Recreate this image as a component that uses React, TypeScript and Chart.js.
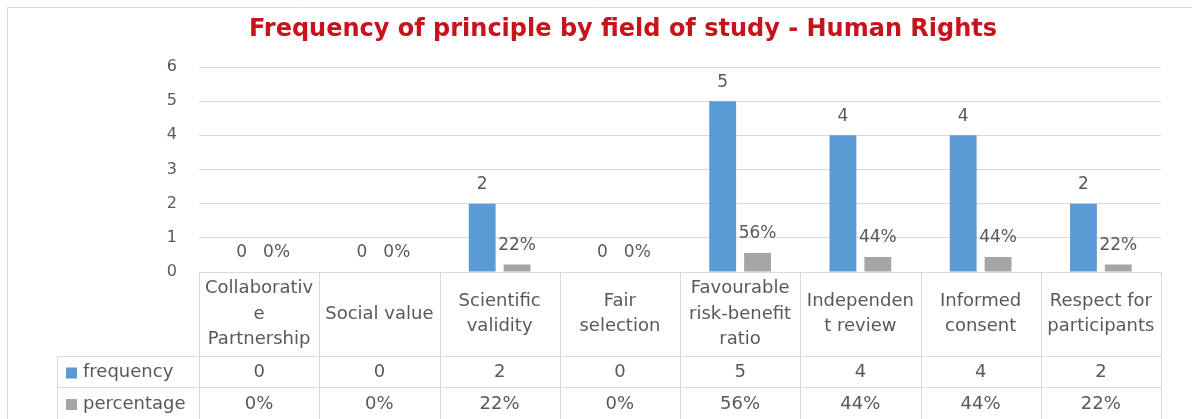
import React, { useEffect, useRef } from "react";
import { Chart, registerables } from "chart.js";

Chart.register(...registerables);

const chartTitle = "Frequency of principle by field of study - Human Rights";
const categories: string[][] = [
  ["Collaborativ", "e", "Partnership"],
  ["Social value"],
  ["Scientific", "validity"],
  ["Fair", "selection"],
  ["Favourable", "risk-benefit", "ratio"],
  ["Independen", "t review"],
  ["Informed", "consent"],
  ["Respect for", "participants"],
];
const seriesNames = ["frequency", "percentage"];
const frequency = [0, 0, 2, 0, 5, 4, 4, 2];
const percentage = [0, 0, 0.22, 0, 0.56, 0.44, 0.44, 0.22];
const yTickMin = 0;
const yTickMax = 6;
const yTickStep = 1;

const BLUE = "#5B9BD5";
const GRAY = "#A5A5A5";
const TEXT = "#595959";
const LINE = "#D9D9D9";
const TITLE_RED = "#C8121C";
const FONT = "'DejaVu Sans', sans-serif";

const W = 1192;
const H = 419;

const fmt = (di: number, v: number) =>
  di === 0 ? String(v) : Math.round(v * 100) + "%";

const framePlugin = {
  id: "frame",
  beforeDraw(chart: any) {
    const ctx = chart.ctx;
    ctx.save();
    ctx.fillStyle = "#ffffff";
    ctx.fillRect(0, 0, W, H);
    ctx.strokeStyle = LINE;
    ctx.lineWidth = 1;
    ctx.beginPath();
    ctx.moveTo(7.5, H);
    ctx.lineTo(7.5, 7.5);
    ctx.lineTo(W, 7.5);
    ctx.stroke();
    // title
    ctx.fillStyle = TITLE_RED;
    ctx.font = `bold 24px 'DejaVu Sans', sans-serif`;
    ctx.textAlign = "center";
    ctx.textBaseline = "middle";
    ctx.fillText(chartTitle, 623, 30);
    ctx.restore();
  },
};

const labelsPlugin = {
  id: "valueLabels",
  afterDatasetsDraw(chart: any) {
    const ctx = chart.ctx;
    ctx.save();
    ctx.fillStyle = TEXT;
    ctx.font = `17px ${FONT}`;
    ctx.textAlign = "center";
    ctx.textBaseline = "middle";
    chart.data.datasets.forEach((ds: any, di: number) => {
      const meta = chart.getDatasetMeta(di);
      meta.data.forEach((el: any, i: number) => {
        ctx.fillText(fmt(di, ds.data[i]), el.x, el.y - 19);
      });
    });
    ctx.restore();
  },
};

const tablePlugin = {
  id: "dataTable",
  afterDraw(chart: any) {
    const ctx = chart.ctx;
    const area = chart.chartArea;
    const xs = chart.scales.x;
    const n = categories.length;
    const colW = (area.right - area.left) / n;
    const catTop = area.bottom;
    const catBottom = catTop + 84;
    const freqBottom = catBottom + 31;
    const labelLeft = 57;
    ctx.save();
    ctx.strokeStyle = LINE;
    ctx.lineWidth = 1;
    ctx.beginPath();
    for (let k = 0; k <= n; k++) {
      const x = Math.round(area.left + k * colW) + 0.5;
      ctx.moveTo(x, catTop);
      ctx.lineTo(x, H);
    }
    ctx.moveTo(labelLeft + 0.5, catBottom);
    ctx.lineTo(labelLeft + 0.5, H);
    ctx.moveTo(labelLeft, catBottom + 0.5);
    ctx.lineTo(area.right, catBottom + 0.5);
    ctx.moveTo(labelLeft, freqBottom + 0.5);
    ctx.lineTo(area.right, freqBottom + 0.5);
    ctx.stroke();

    ctx.fillStyle = TEXT;
    ctx.font = `18px ${FONT}`;
    ctx.textAlign = "center";
    ctx.textBaseline = "middle";
    const lh = 25.5;
    const catMid = (catTop + catBottom) / 2;
    categories.forEach((lines, i) => {
      const cx = xs.getPixelForValue(i);
      const start = catMid - ((lines.length - 1) * lh) / 2;
      lines.forEach((ln, j) => ctx.fillText(ln, cx, start + j * lh));
    });
    const rowMids = [(catBottom + freqBottom) / 2 + 1, freqBottom + 17];
    const series = [frequency, percentage];
    const colors = [BLUE, GRAY];
    series.forEach((vals, di) => {
      const y = rowMids[di];
      ctx.textAlign = "center";
      vals.forEach((v, i) => ctx.fillText(fmt(di, v), xs.getPixelForValue(i), y));
      ctx.fillStyle = colors[di];
      ctx.fillRect(66, y - 5, 11, 11);
      ctx.fillStyle = TEXT;
      ctx.textAlign = "left";
      ctx.fillText(seriesNames[di], 83, y);
    });
    ctx.restore();
  },
};

export default function App() {
  const ref = useRef<HTMLCanvasElement | null>(null);
  useEffect(() => {
    if (!ref.current) return;
    const chart = new Chart(ref.current, {
      type: "bar",
      data: {
        labels: categories.map((c) => c.join(" ")),
        datasets: [
          {
            label: seriesNames[0],
            data: frequency,
            backgroundColor: BLUE,
            categoryPercentage: 0.58,
            barPercentage: 0.77,
          },
          {
            label: seriesNames[1],
            data: percentage,
            backgroundColor: GRAY,
            categoryPercentage: 0.58,
            barPercentage: 0.77,
          },
        ],
      },
      options: {
        responsive: false,
        animation: false,
        layout: { padding: { left: 0, right: 31, top: 67, bottom: 147 } },
        plugins: {
          legend: { display: false },
          title: { display: false },
          tooltip: { enabled: false },
        },
        scales: {
          x: { display: false },
          y: {
            min: yTickMin,
            max: yTickMax,
            afterFit: (s: any) => {
              s.width = 199;
            },
            ticks: {
              stepSize: yTickStep,
              color: TEXT,
              padding: 22,
              font: { family: FONT, size: 16 },
            },
            grid: { color: LINE, drawTicks: false },
            border: { display: false },
          },
        },
      },
      plugins: [framePlugin, labelsPlugin, tablePlugin],
    });
    return () => chart.destroy();
  }, []);
  return (
    <div style={{ position: "absolute", left: 0, top: 0, width: W, height: H }}>
      <canvas ref={ref} width={W} height={H} style={{ display: "block" }} />
    </div>
  );
}
